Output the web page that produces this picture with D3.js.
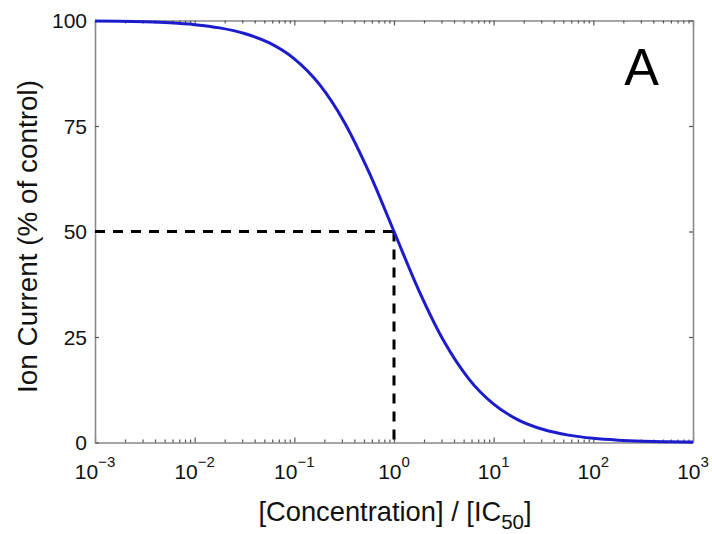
<!DOCTYPE html>
<html>
<head>
<meta charset="utf-8">
<script src="https://cdn.jsdelivr.net/npm/d3@7"></script>
<style>
  body { margin: 0; background: #fff; }
  svg { display: block; }
</style>
</head>
<body>
<svg id="chart" width="712" height="534"></svg>
<script>
// Concentration / IC50 (log-spaced) and ion current (% of control)
const concentration = [0.001, 0.001778, 0.003162, 0.005623, 0.01, 0.01778, 0.03162, 0.05623,
  0.1, 0.1778, 0.3162, 0.5623, 1, 1.778, 3.162, 5.623, 10, 17.78, 31.62, 56.23,
  100, 177.8, 316.2, 562.3, 1000];
const ionCurrent = [99.9, 99.82, 99.68, 99.44, 99.01, 98.25, 96.93, 94.68,
  90.91, 84.91, 75.97, 64.0, 50.0, 36.0, 24.03, 15.09, 9.09, 5.32, 3.07, 1.75,
  0.99, 0.56, 0.32, 0.18, 0.1];
const ic50Point = [1, 50];
const xTickValues = [1e-3, 1e-2, 1e-1, 1e0, 1e1, 1e2, 1e3];
const xTickExponents = ["\u22123", "\u22122", "\u22121", "0", "1", "2", "3"];
const yTickValues = [0, 25, 50, 75, 100];
const yTickLabels = ["0", "25", "50", "75", "100"];
const panelLabel = "A";

const svg = d3.select("#chart");
const W = 712, H = 534;
const m = { left: 95, right: W - 693, top: 20.5, bottom: H - 442.5 };

const x = d3.scaleLog().domain([1e-3, 1e3]).range([m.left, W - m.right]);
const y = d3.scaleLinear().domain([0, 100]).range([H - m.bottom, m.top]);

const domainColor = "#8a8a8a";
const tickColor = "#555";
const tickFont = "Liberation Sans, Arial, Helvetica, sans-serif";

// minor ticks
const minor = [];
for (let e = -3; e < 3; e++) for (let k = 2; k <= 9; k++) minor.push(k * Math.pow(10, e));

function axisPair(gen, pos, majors, majLen, minors) {
  const g = svg.append("g").attr("transform", pos);
  g.call(gen.tickValues(majors).tickSizeInner(-majLen).tickSizeOuter(0).tickFormat(""));
  if (minors) {
    const gm = svg.append("g").attr("transform", pos);
    gm.call(gen.tickValues(minors).tickSizeInner(-3).tickSizeOuter(0).tickFormat(""));
    gm.select(".domain").remove();
  }
}
axisPair(d3.axisBottom(x), `translate(0,${y(0)})`, xTickValues, 5, minor);
axisPair(d3.axisTop(x), `translate(0,${y(100)})`, xTickValues, 5, minor);
axisPair(d3.axisLeft(y), `translate(${x(1e-3)},0)`, yTickValues, 4, null);
axisPair(d3.axisRight(y), `translate(${x(1e3)},0)`, yTickValues, 4, null);

svg.selectAll(".domain").attr("stroke", domainColor).attr("stroke-width", 1.6);
svg.selectAll(".tick line").attr("stroke", tickColor).attr("stroke-width", 1.2);

// Y tick labels
svg.append("g").selectAll("text").data(yTickValues).join("text")
  .attr("x", m.left - 8).attr("y", d => y(d)).attr("dy", "0.36em")
  .attr("text-anchor", "end").attr("font-family", tickFont).attr("font-size", 21)
  .attr("fill", "#111")
  .text((d, i) => yTickLabels[i]);

// X tick labels 10^n
const xl = svg.append("g").selectAll("text").data(xTickValues).join("text")
  .attr("x", d => x(d)).attr("y", 479)
  .attr("text-anchor", "middle").attr("font-family", tickFont).attr("font-size", 21)
  .attr("fill", "#111");
xl.append("tspan").text("10");
xl.append("tspan").attr("dy", -12).attr("font-size", 15).text((d, i) => xTickExponents[i]);

// Dashed IC50 guides
const dash = svg.append("g").attr("stroke", "#000").attr("stroke-width", 3)
  .attr("stroke-dasharray", "10,8").attr("fill", "none");
dash.append("line").attr("x1", x(1e-3)).attr("x2", x(ic50Point[0]))
  .attr("y1", y(ic50Point[1])).attr("y2", y(ic50Point[1]));
dash.append("line").attr("x1", x(ic50Point[0])).attr("x2", x(ic50Point[0]))
  .attr("y1", y(ic50Point[1])).attr("y2", y(0));

// Curve
const pts = concentration.map((c, i) => [c, ionCurrent[i]]);
svg.append("path").datum(pts)
  .attr("fill", "none").attr("stroke", "#1c1ccc").attr("stroke-width", 3)
  .attr("d", d3.line().x(d => x(d[0])).y(d => y(d[1])).curve(d3.curveMonotoneX));

// Panel label
svg.append("text").attr("x", 641.5).attr("y", 85).attr("text-anchor", "middle")
  .attr("font-family", tickFont).attr("font-size", 52).attr("fill", "#000").text(panelLabel);

// X axis label
const xt = svg.append("text").attr("x", 395).attr("y", 521)
  .attr("text-anchor", "middle").attr("font-family", tickFont).attr("font-size", 22)
  .attr("fill", "#111");
xt.append("tspan").text("[Concentration] / [IC");
const sub = xt.append("tspan").attr("dy", 7).attr("font-size", 17).text("50");
xt.append("tspan").attr("dy", -7).text("]");
// fit to measured width
let w = xt.node().getComputedTextLength();
let fs = 22 * 274 / w;
xt.attr("font-size", fs);
sub.attr("font-size", fs * 0.75).attr("dy", fs * 0.3);
xt.select("tspan:last-child").attr("dy", -fs * 0.3);

// Y axis label
const yt = svg.append("text")
  .attr("transform", `translate(37,236.5) rotate(-90)`)
  .attr("text-anchor", "middle").attr("font-family", tickFont)
  .attr("font-size", 22).attr("fill", "#111")
  .text("Ion Current (% of control)");
w = yt.node().getComputedTextLength();
yt.attr("font-size", 22 * 313 / w);
</script>
</body>
</html>
